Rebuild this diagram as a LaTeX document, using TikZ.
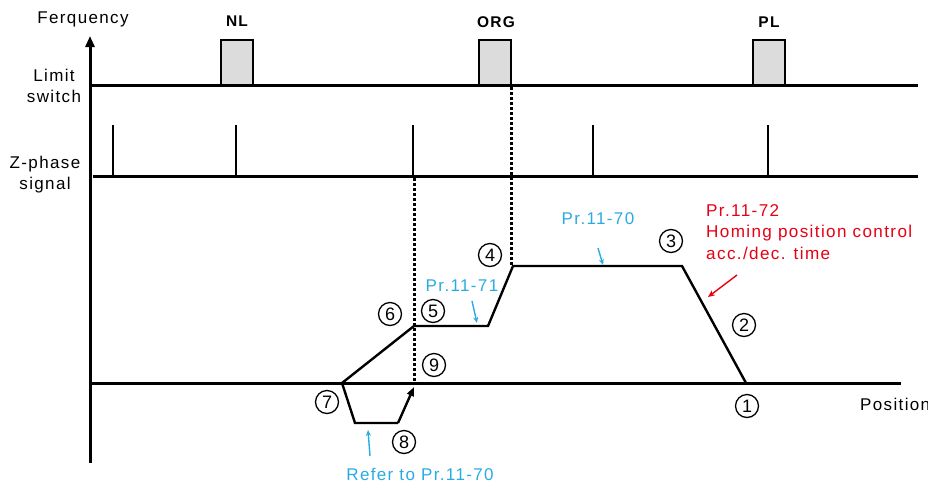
\documentclass[tikz,border=0pt]{standalone}
\usepackage{fontspec}
\setmainfont{Liberation Sans}[LetterSpace=8]
\usetikzlibrary{arrows.meta}
\definecolor{cblue}{HTML}{29ABE2}
\definecolor{cred}{HTML}{E60012}
\definecolor{boxgray}{HTML}{DCDCDC}
\begin{document}
\begin{tikzpicture}[x=1pt,y=-1pt,
  axisline/.style={line width=3pt},
  curveline/.style={line width=2.4pt, line join=miter},
  swbox/.style={draw, line width=2pt, fill=boxgray, minimum width=32pt, minimum height=45pt, inner sep=0pt},
  pulse/.style={line width=2.2pt},
  dashline/.style={line width=3pt, dash pattern=on 3pt off 2pt},
  cnum/.style={draw, circle, line width=1.3pt, minimum size=23pt, inner sep=0pt, font=\fontsize{18}{18}\selectfont\addfontfeatures{LetterSpace=0}},
  lbl/.style={font=\fontsize{17}{21}\selectfont, inner sep=0pt},
  blbl/.style={font=\fontsize{15.5}{18}\selectfont\bfseries, inner sep=0pt},
  bluelbl/.style={font=\fontsize{17}{20}\selectfont, text=cblue, inner sep=0pt},
  redlbl/.style={font=\fontsize{17.1}{21.5}\selectfont, text=cred, inner sep=0pt, align=left},
  blarrow/.style={cblue, line width=1.4pt, -{Stealth[length=6pt,width=5pt]}},
  rdarrow/.style={cred, line width=1.4pt, -{Stealth[length=7pt,width=6pt]}}
]
\useasboundingbox (0,0) rectangle (928,485);

% axes
\coordinate (ybot) at (90,463);
\coordinate (ytop) at (90,36);
\draw[axisline, -{Triangle[length=11pt,width=9pt]}] (ybot) -- (ytop);
\coordinate (lsL) at (90,85);
\coordinate (lsR) at (918,85);
\coordinate (zL) at (93,176);
\coordinate (zR) at (918,176);
\coordinate (pL) at (90,383);
\coordinate (pR) at (901,383);

% switch boxes
\node[swbox] (nl) at (236.5,62.5) {};
\node[swbox] (org) at (495,62.5) {};
\node[swbox] (pl) at (768.5,62.5) {};
\draw[axisline] (lsL) -- (lsR);
\draw[axisline] (zL) -- (zR);
\draw[axisline] (pL) -- (pR);

\node[blbl] (nllbl) at (237,21) {NL};
\node[blbl] (orglbl) at (496,22) {ORG};
\node[blbl] (pllbl) at (769,22) {PL};

% z pulses
\foreach \xx/\nm in {113/z1,236/z2,413/z3,593/z4,768/z5}{
  \coordinate (\nm t) at (\xx,125);
  \coordinate (\nm b) at (\xx,176);
  \draw[pulse] (\nm t) -- (\nm b);
}

% labels
\node[lbl] (freq) at (83,19) {Ferquency};
\node[lbl, align=center] (lim) at (54,86) {Limit\\switch};
\node[lbl, align=center] (zph) at (45,175) {Z-phase\\signal};
\node[lbl, anchor=west] (pos) at (860,404) {Position};

% curve points
\coordinate (c1) at (746,383);
\coordinate (c2) at (682,266);
\coordinate (c3) at (513,266);
\coordinate (c4) at (488,326);
\coordinate (c5) at (414,326);
\coordinate (c6) at (342,383);
\coordinate (c7) at (355,423);
\coordinate (c8) at (398,423);
\coordinate (c9) at (414,387);

% dashed lines
\coordinate (d1t) at (414,178);
\coordinate (d1b) at (414,385);
\coordinate (d2t) at (511,87);
\coordinate (d2b) at (511,266);
\draw[dashline] (d1t) -- (d1b);
\draw[dashline] (d2t) -- (d2b);

\draw[curveline] (c1) -- (c2) -- (c3) -- (c4) -- (c5) -- (c6) -- (c7) -- (c8);
\draw[curveline, -{Triangle[length=9pt,width=7pt]}] (c8) -- (c9);

% circled numbers
\node[cnum] (n1) at (747,406) {1};
\node[cnum] (n2) at (744,325) {2};
\node[cnum] (n3) at (671,241) {3};
\node[cnum] (n4) at (490,255) {4};
\node[cnum] (n5) at (433,311) {5};
\node[cnum] (n6) at (390,314) {6};
\node[cnum] (n7) at (327,402) {7};
\node[cnum] (n8) at (404,442) {8};
\node[cnum] (n9) at (434,365) {9};

% blue labels
\node[bluelbl] (b70) at (598,219) {Pr.11-70};
\node[bluelbl] (b71) at (462,286) {Pr.11-71};
\node[bluelbl] (bref) at (420,474) {Refer to Pr.11-70};
\coordinate (a70s) at (598,248);
\coordinate (a70e) at (603,265);
\coordinate (a71s) at (472,301);
\coordinate (a71e) at (477,323);
\coordinate (arfs) at (370,456);
\coordinate (arfe) at (368,430);
\draw[blarrow] (a70s) -- (a70e);
\draw[blarrow] (a71s) -- (a71e);
\draw[blarrow] (arfs) -- (arfe);

% red label
\node[redlbl, anchor=north west] (r72) at (706,204) {Pr.11-72\\Homing position control\\acc./dec. time};
\coordinate (ars) at (737,275);
\coordinate (are) at (708,297);
\draw[rdarrow] (ars) -- (are);
\end{tikzpicture}
\end{document}
